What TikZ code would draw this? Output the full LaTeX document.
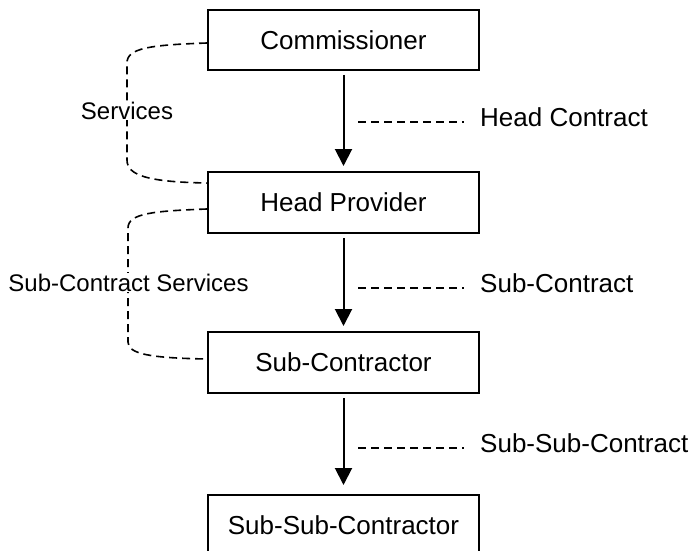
\documentclass[tikz,border=0pt]{standalone}
\usepackage{fontspec}
\setmainfont{Liberation Sans}
\usetikzlibrary{arrows.meta}
\begin{document}
\begin{tikzpicture}[x=1pt,y=-1pt,
  box/.style={draw=black, line width=2pt, minimum width=271pt, minimum height=60pt, inner sep=0pt, font=\fontsize{26}{30}\selectfont},
  arr/.style={line width=2pt, -{Triangle[width=17pt,length=17pt]}},
  dsh/.style={line width=1.6pt, dash pattern=on 8pt off 5pt},
  lbl/.style={inner sep=0pt, font=\fontsize{26}{30}\selectfont},
  slbl/.style={inner sep=1pt, fill=white, font=\fontsize{24}{28}\selectfont}]
\clip (0,0) rectangle (694,551);
\fill[white] (0,0) rectangle (694,551);
\node[box] (comm) at (343.5,40) {Commissioner};
\node[box, minimum height=61pt] (head) at (343.5,202.5) {Head Provider};
\node[box, minimum height=61pt] (sub) at (343.5,362.5) {Sub-Contractor};
\node[box] (subsub) at (343.5,525) {Sub-Sub-Contractor};
% arrows
\draw[arr, shorten <=4pt, shorten >=5pt] (comm.south) -- (head.north);
\draw[arr, shorten <=4pt, shorten >=5pt] (head.south) -- (sub.north);
\draw[arr, shorten <=4pt, shorten >=9pt] (sub.south) -- (subsub.north);
% contract labels
\node[lbl, anchor=base west] (hc) at (480,126) {Head Contract};
\node[lbl, anchor=base west] (sc) at (480,292) {Sub-Contract};
\node[lbl, anchor=base west] (ssc) at (480,452) {Sub-Sub-Contract};
\coordinate (hcL) at (358,122);
\coordinate (scL) at (358,288);
\coordinate (sscL) at (358,448);
\draw[dsh, shorten >=16pt] (hcL) -- (hcL -| hc.west);
\draw[dsh, shorten >=16pt] (scL) -- (scL -| sc.west);
\draw[dsh, shorten >=16pt] (sscL) -- (sscL -| ssc.west);
% services curves
\draw[dsh] ([yshift=-3pt]comm.west) .. controls (150,45) and (127,48) .. (127,63)
  -- (127,160) .. controls (127,176) and (150,182) .. ([yshift=-12pt]head.north west);
\draw[dsh] ([yshift=-6.5pt]head.west) .. controls (155,211) and (128,213) .. (128,228)
  -- (128,342) .. controls (128,354) and (150,358) .. ([yshift=3.5pt]sub.west);
\node[slbl, anchor=base] (sv) at (127,119) {Services};
\node[slbl, anchor=base] (ssv) at (128.5,291) {Sub-Contract Services};
\end{tikzpicture}
\end{document}
